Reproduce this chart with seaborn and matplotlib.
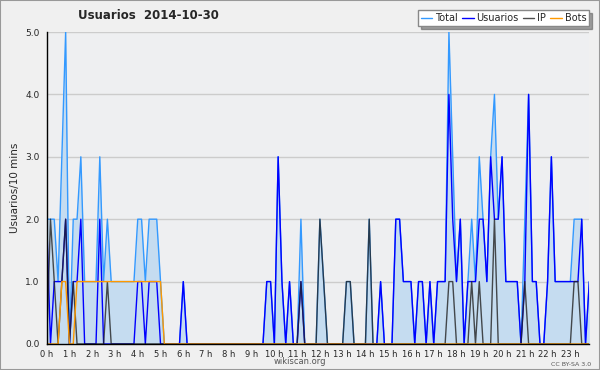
import numpy as np
import pandas as pd
import seaborn as sns
import matplotlib.pyplot as plt
from matplotlib.patches import Rectangle

# one row per hour, six 10-minute slots each
total = [
    2, 2, 2, 1, 3, 5,
    0, 2, 2, 3, 1, 1,
    1, 1, 3, 1, 2, 1,
    1, 1, 1, 1, 1, 1,
    2, 2, 1, 2, 2, 2,
    1, 0, 0, 0, 0, 0,
    1, 0, 0, 0, 0, 0,
    0, 0, 0, 0, 0, 0,
    0, 0, 0, 0, 0, 0,
    0, 0, 0, 0, 1, 1,
    0, 3, 1, 0, 1, 0,
    0, 2, 0, 0, 0, 0,
    2, 1, 0, 0, 0, 0,
    0, 1, 1, 0, 0, 0,
    0, 2, 0, 0, 1, 0,
    0, 0, 2, 2, 1, 1,
    1, 0, 1, 1, 0, 1,
    0, 1, 1, 1, 5, 3,
    1, 2, 0, 1, 2, 1,
    3, 2, 1, 3, 4, 2,
    3, 1, 1, 1, 1, 0,
    2, 4, 1, 1, 0, 0,
    1, 3, 1, 1, 1, 1,
    1, 2, 2, 2, 0, 1,
]
usuarios = [
    2, 0, 1, 1, 1, 2,
    0, 1, 1, 2, 0, 0,
    0, 0, 2, 0, 0, 0,
    0, 0, 0, 0, 0, 0,
    1, 1, 0, 1, 1, 1,
    0, 0, 0, 0, 0, 0,
    1, 0, 0, 0, 0, 0,
    0, 0, 0, 0, 0, 0,
    0, 0, 0, 0, 0, 0,
    0, 0, 0, 0, 1, 1,
    0, 3, 1, 0, 1, 0,
    0, 1, 0, 0, 0, 0,
    0, 0, 0, 0, 0, 0,
    0, 0, 0, 0, 0, 0,
    0, 0, 0, 0, 1, 0,
    0, 0, 2, 2, 1, 1,
    1, 0, 1, 1, 0, 1,
    0, 1, 1, 1, 4, 2,
    1, 2, 0, 1, 1, 1,
    2, 2, 1, 3, 2, 2,
    3, 1, 1, 1, 1, 0,
    1, 4, 1, 1, 0, 0,
    1, 3, 1, 1, 1, 1,
    1, 1, 1, 2, 0, 1,
]
ip = [
    0, 2, 1, 0, 1, 2,
    0, 1, 0, 0, 0, 0,
    0, 0, 0, 0, 1, 0,
    0, 0, 0, 0, 0, 0,
    0, 0, 0, 0, 0, 0,
    0, 0, 0, 0, 0, 0,
    0, 0, 0, 0, 0, 0,
    0, 0, 0, 0, 0, 0,
    0, 0, 0, 0, 0, 0,
    0, 0, 0, 0, 0, 0,
    0, 0, 0, 0, 0, 0,
    0, 1, 0, 0, 0, 0,
    2, 1, 0, 0, 0, 0,
    0, 1, 1, 0, 0, 0,
    0, 2, 0, 0, 0, 0,
    0, 0, 0, 0, 0, 0,
    0, 0, 0, 0, 0, 0,
    0, 0, 0, 0, 1, 1,
    0, 0, 0, 0, 1, 0,
    1, 0, 0, 0, 2, 0,
    0, 0, 0, 0, 0, 0,
    1, 0, 0, 0, 0, 0,
    0, 0, 0, 0, 0, 0,
    0, 1, 1, 0, 0, 0,
]
bots = [
    0, 0, 0, 0, 1, 1,
    0, 0, 1, 1, 1, 1,
    1, 1, 1, 1, 1, 1,
    1, 1, 1, 1, 1, 1,
    1, 1, 1, 1, 1, 1,
    1, 0, 0, 0, 0, 0,
] + [0] * 108
hour_labels = [f"{h} h" for h in range(24)]

slots = np.arange(len(total))
df = pd.DataFrame({"slot": slots, "Total": total, "Usuarios": usuarios,
                   "IP": ip, "Bots": bots})

sns.set_style("white")
plt.rcParams["font.family"] = ["DejaVu Sans"]

fig = plt.figure(figsize=(6, 3.7), dpi=100, facecolor="#f0f0f0")
ax = fig.add_axes([0.0778, 0.0703, 0.9044, 0.8432])
ax.set_facecolor("#eeeff1")

ax.fill_between(df["slot"], df["Total"], color="#c5dcf0", lw=0)
sns.lineplot(data=df, x="slot", y="Total", ax=ax, color="#3399ff", lw=1, label="Total")
sns.lineplot(data=df, x="slot", y="Usuarios", ax=ax, color="#0000ff", lw=1, label="Usuarios")
sns.lineplot(data=df, x="slot", y="IP", ax=ax, color="#222222", lw=1, alpha=0.8, label="IP")
sns.lineplot(data=df, x="slot", y="Bots", ax=ax, color="#ff9900", lw=1, label="Bots")

ax.set_xlim(0, 143)
ax.set_ylim(0, 5)
ax.set_yticks(np.arange(0, 5.1, 1))
ax.set_yticklabels([f"{v:.1f}" for v in range(6)], fontsize=6.5)
ax.set_yticks(np.arange(0, 5.01, 0.2), minor=True)
ax.set_xticks(np.arange(0, 144, 6))
ax.set_xticklabels(hour_labels, fontsize=6)
ax.set_xticks(slots, minor=True)
ax.tick_params(axis="y", which="major", direction="out", length=4, width=1, pad=1)
ax.tick_params(axis="x", which="major", direction="out", length=4, width=1, pad=0)
ax.tick_params(axis="both", which="minor", direction="out", length=3, width=1)
ax.grid(axis="y", color="#cccccc", lw=1)
ax.set_axisbelow(True)
for side in ["top", "right"]:
    ax.spines[side].set_visible(False)
for side in ["left", "bottom"]:
    ax.spines[side].set_color("black")
    ax.spines[side].set_linewidth(1)
ax.set_xlabel("")
ax.set_ylabel("Usuarios/10 mins", fontsize=7.5, labelpad=4)

ax.legend(loc="upper right", bbox_to_anchor=(0.99, 0.985), bbox_transform=fig.transFigure,
          ncol=4, fontsize=7, frameon=True, shadow=True, fancybox=False,
          handlelength=1.2, handletextpad=0.3, columnspacing=0.4,
          borderpad=0.3, edgecolor="#888888", facecolor="white", framealpha=1)

fig.text(0.247, 0.957, "Usuarios  2014-10-30", fontsize=8.5, fontweight="bold",
         ha="center", va="center")
fig.text(0.5, 0.022, "wikiscan.org", fontsize=6, color="#555555", ha="center", va="center")
fig.text(0.985, 0.016, "CC BY-SA 3.0", fontsize=4.5, color="#555555", ha="right", va="center")
fig.patches.append(Rectangle((0, 0), 1, 1, transform=fig.transFigure, fill=False,
                             edgecolor="#999999", lw=1.5))

fig.savefig("out.png", dpi=100, facecolor=fig.get_facecolor())
